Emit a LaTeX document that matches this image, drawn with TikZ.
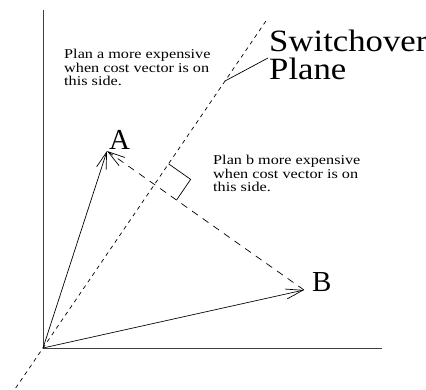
\documentclass[tikz,border=0pt]{standalone}
\usepackage{fontspec}
\setmainfont{Liberation Serif}
\usetikzlibrary{arrows.meta,calc}
\begin{document}
\begin{tikzpicture}[x=1pt,y=1pt,
  axis/.style={line width=1pt, draw=black!75},
  vec/.style={line width=0.7pt, -{Straight Barb[length=17pt,width=10pt,line width=0.7pt]}},
  plane/.style={line width=0.7pt, dash pattern=on 4pt off 4pt},
  proj/.style={line width=0.7pt, dash pattern=on 7pt off 6pt},
  thin line/.style={line width=0.7pt},
  note/.style={font=\fontsize{13.5}{13.5}\selectfont, align=left, inner sep=0pt, anchor=base west, xscale=1.2, transform shape},
  big/.style={font=\fontsize{31}{28}\selectfont, align=left, inner sep=0pt, anchor=base west, xscale=1.12, transform shape},
  letter/.style={font=\fontsize{29}{29}\selectfont, inner sep=0pt, anchor=base west}]
\useasboundingbox (0,0) rectangle (426,389);
% key points
\coordinate (O) at (43,41);
\coordinate (Ytop) at (43,379);
\coordinate (Xend) at (382,41);
\coordinate (Sbot) at (15.7,1);
\coordinate (Stop) at (268,371);
\coordinate (A) at (107,238);
\coordinate (B) at (304,99);
\coordinate (L1) at (225,308);
\coordinate (L2) at (268,331);
\coordinate (I) at (intersection of O--Stop and A--B);
\coordinate (R1) at ($(I)!25pt!(Stop)$);
\coordinate (R2) at ($(I)!27pt!(B)$);
\coordinate (RC) at ($(R1)+(R2)-(I)$);
% axes
\draw[axis] (Ytop) -- (O) -- (Xend);
% switchover plane
\draw[plane] (Sbot) -- (Stop);
% vectors
\draw[vec] (O) -- (A);
\draw[vec] (O) -- (B);
\draw[proj, -{Straight Barb[length=17pt,width=10pt,line width=0.7pt]}] (B) -- (A);
% right angle mark
\draw[thin line] (R1) -- (RC) -- (R2);
% leader
\draw[thin line] (L1) -- (L2);
% labels
\node[big] (sw) at (269,309) {Switchover\\Plane};
\node[note] (pa) at (64,303) {Plan a more expensive\\when cost vector is on\\this side.};
\node[note] (pb) at (213,197.3) {Plan b more expensive\\when cost vector is on\\this side.};
\node[letter] (la) at (109,239) {A};
\node[letter] (lb) at (312,98) {B};
\end{tikzpicture}
\end{document}
